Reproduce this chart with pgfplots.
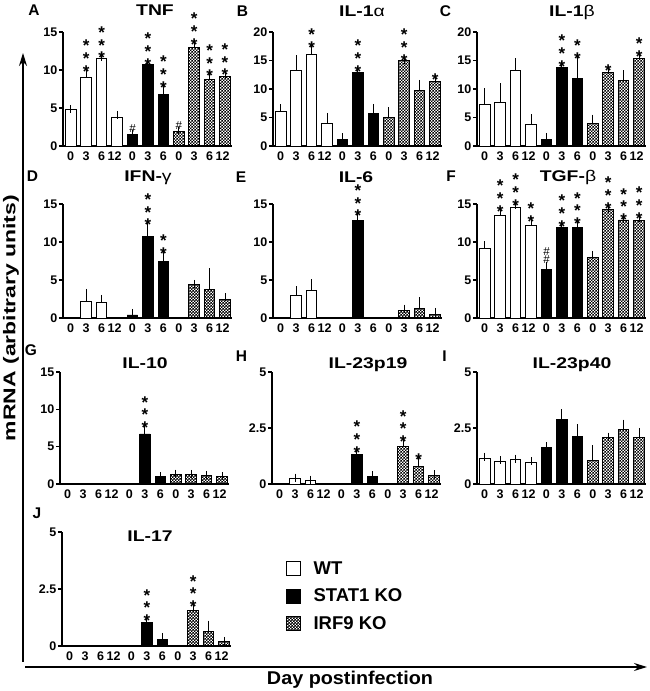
\documentclass[border=0pt]{standalone}
\usepackage{fontspec}
\setmainfont{Liberation Sans}
\newfontfamily\titlefont[FakeStretch=1.25]{Liberation Sans}
\newfontfamily\ylabfont[FakeStretch=1.35]{Liberation Sans}
\newfontfamily\xlabfont[FakeStretch=1.07]{Liberation Sans}
\usepackage{pgfplots}
\pgfplotsset{compat=1.18}
\usetikzlibrary{patterns,arrows.meta}

\pgfdeclarepatternformonly{finecheck}{\pgfpointorigin}{\pgfqpoint{3.2pt}{3.2pt}}{\pgfqpoint{3.2pt}{3.2pt}}%
{
  \pgfpathrectangle{\pgfpointorigin}{\pgfqpoint{1.85pt}{1.85pt}}
  \pgfpathrectangle{\pgfqpoint{1.6pt}{1.6pt}}{\pgfqpoint{1.85pt}{1.85pt}}
  \pgfusepath{fill}
}

\newcommand{\tl}[1]{\textbf{#1}}
\newcommand{\tw}{\textbf{12}\kern5pt}
\pgfplotsset{
  panel/.style={
    scale only axis, width=169pt, height=114pt,
    anchor=south west,
    axis x line*=bottom, axis y line*=left,
    axis line style={line width=1.4pt},
    xmin=-0.5, xmax=10.45, ymin=0,
    xtick={0,...,10},
    xticklabels={\tl{0},\tl{3},\tl{6},\tw,\tl{0},\tl{3},\tl{6},\tl{0},\tl{3},\tl{6},\tw},
    x tick style={draw=none},
    y tick style={line width=1.4pt, black},
    tick align=outside, major tick length=4pt,
    tick label style={font=\bfseries\fontsize{12.5}{13}\selectfont},
    xticklabel style={yshift=2pt, inner xsep=0pt, font=\bfseries\fontsize{12.5}{13}\selectfont},
    yticklabel style={inner xsep=1.5pt, font=\bfseries\fontsize{12.5}{13}\selectfont},
    /pgf/number format/assume math mode=true,
    clip=false,
    ybar, bar width=10.5pt, bar shift=0pt,
    error bars/y dir=plus, error bars/y explicit,
    error bars/error bar style={line width=0.9pt, black},
    error bars/error mark options={line width=0.9pt, mark size=4pt, black},
  },
  wt/.style={draw=black, line width=0.9pt, fill=white, bar shift=0pt},
  ko/.style={draw=black, line width=0.9pt, fill=black, bar shift=0pt},
  irf/.style={draw=black, line width=0.9pt, pattern=finecheck, pattern color=black, bar shift=0pt},
}
\tikzset{
  sig/.style={anchor=south, inner sep=0pt, align=center, font=\bfseries\fontsize{17}{7.6}\selectfont, yshift=-6.6pt},
  hsh/.style={anchor=south, inner sep=0pt, align=center, font=\fontsize{11.5}{8}\selectfont, yshift=1.5pt},
  ttl/.style={anchor=base, inner sep=0pt, font=\titlefont\bfseries\fontsize{15.5}{16}\selectfont},
  lett/.style={anchor=base, inner sep=0pt, font=\bfseries\fontsize{15.5}{16}\selectfont},
}
\newcommand{\sg}[3]{\node[sig] at (axis cs:#1,#2) {#3};}
\newcommand{\hs}[3]{\node[hsh] at (axis cs:#1,#2) {#3};}
\newcommand{\sA}{*}
\newcommand{\sB}{*\\*}
\newcommand{\sC}{*\\*\\*}

\begin{document}
\begin{tikzpicture}
\path[use as bounding box] (0pt,0pt) rectangle (650pt,691pt);

% ---------- A TNF ----------
\begin{axis}[panel, at={(63pt,545pt)}, ymax=15, ytick={0,5,10,15}]
\addplot[wt] coordinates {(0,4.8)+-(0,0.1) (1,9.0)+-(0,0.9) (2,11.5)+-(0,0.15) (3,3.8)+-(0,0.3)};
\addplot[ko] coordinates {(4,1.5)+-(0,0.05) (5,10.7)+-(0,0.1) (6,6.8)+-(0,1.0)};
\addplot[irf] coordinates {(7,1.9)+-(0,0.1) (8,13.0)+-(0,0.45) (9,8.7)+-(0,0.6) (10,9.1)+-(0,0.3)};
\sg{1}{9.9}{\sC}\sg{2}{11.65}{\sC}\sg{5}{10.8}{\sC}\sg{6}{7.8}{\sC}
\sg{8}{13.45}{\sC}\sg{9}{9.3}{\sC}\sg{10}{9.4}{\sC}
\hs{4}{1.55}{\#}\hs{7}{2.0}{\#}
\end{axis}

% ---------- B IL-1a ----------
\begin{axis}[panel, at={(273pt,545pt)}, ymax=20, ytick={0,5,10,15,20}]
\addplot[wt] coordinates {(0,6.0)+-(0,0.6) (1,13.3)+-(0,1.9) (2,16.1)+-(0,1.3) (3,3.9)+-(0,1.2)};
\addplot[ko] coordinates {(4,1.1)+-(0,0.4) (5,12.9)+-(0,0.3) (6,5.7)+-(0,1.0)};
\addplot[irf] coordinates {(7,5.0)+-(0,1.1) (8,15.0)+-(0,0.15) (9,9.8)+-(0,1.1) (10,11.3)+-(0,0.4)};
\sg{2}{17.4}{\sB}\sg{5}{13.2}{\sC}\sg{8}{15.15}{\sC}\sg{10}{11.7}{\sA}
\end{axis}

% ---------- C IL-1b ----------
\begin{axis}[panel, at={(477pt,545pt)}, ymax=20, ytick={0,5,10,15,20}]
\addplot[wt] coordinates {(0,7.35)+-(0,2.1) (1,7.6)+-(0,2.7) (2,13.2)+-(0,1.5) (3,3.8)+-(0,1.1)};
\addplot[ko] coordinates {(4,1.1)+-(0,0.5) (5,13.8)+-(0,0.3) (6,11.9)+-(0,3.5)};
\addplot[irf] coordinates {(7,4.0)+-(0,0.8) (8,12.9)+-(0,0.45) (9,11.5)+-(0,1.1) (10,15.4)+-(0,0.4)};
\sg{5}{14.1}{\sC}\sg{6}{15.4}{\sB}\sg{8}{13.35}{\sA}\sg{10}{15.8}{\sB}
\end{axis}

% ---------- D IFN-g ----------
\begin{axis}[panel, at={(63pt,373pt)}, ymax=15, ytick={0,5,10,15}]
\addplot[wt] coordinates {(1,2.2)+-(0,1.1) (2,2.0)+-(0,0.5)};
\addplot[ko] coordinates {(4,0.4)+-(0,0.26) (5,10.7)+-(0,1.6) (6,7.4)+-(0,1.2)};
\addplot[irf] coordinates {(8,4.4)+-(0,0.1) (9,3.7)+-(0,2.3) (10,2.4)+-(0,0.3)};
\sg{5}{12.3}{\sC}\sg{6}{8.6}{\sB}
\end{axis}

% ---------- E IL-6 ----------
\begin{axis}[panel, at={(273pt,373pt)}, ymax=15, ytick={0,5,10,15}]
\addplot[wt] coordinates {(1,3.0)+-(0,0.65) (2,3.6)+-(0,1.0)};
\addplot[ko] coordinates {(5,12.8)+-(0,0.7)};
\addplot[irf] coordinates {(8,0.97)+-(0,0.25) (9,1.2)+-(0,1.0) (10,0.5)+-(0,0.3)};
\sg{5}{13.5}{\sC}
\end{axis}

% ---------- F TGF-b ----------
\begin{axis}[panel, at={(477pt,373pt)}, ymax=15, ytick={0,5,10,15}]
\addplot[wt] coordinates {(0,9.1)+-(0,0.5) (1,13.5)+-(0,0.6) (2,14.6)+-(0,0.3) (3,12.15)+-(0,0.65)};
\addplot[ko] coordinates {(4,6.4)+-(0,0.5) (5,11.85)+-(0,0.3) (6,11.9)+-(0,0.6)};
\addplot[irf] coordinates {(7,8.0)+-(0,0.3) (8,14.3)+-(0,0.2) (9,12.9)+-(0,0.1) (10,12.85)+-(0,0.35)};
\sg{1}{14.1}{\sC}\sg{2}{14.9}{\sC}\sg{3}{12.8}{\sB}\sg{5}{12.15}{\sC}\sg{6}{12.5}{\sC}
\sg{8}{14.5}{\sC}\sg{9}{13.0}{\sC}\sg{10}{13.2}{\sC}
\hs{4}{6.9}{\#\\\#}
\end{axis}

% ---------- G IL-10 ----------
\begin{axis}[panel, height=112pt, at={(60pt,207pt)}, ymax=15, ytick={0,5,10,15}]
\addplot[ko] coordinates {(5,6.7)+-(0,0.9) (6,0.98)+-(0,0.08)};
\addplot[irf] coordinates {(7,1.3)+-(0,0.08) (8,1.25)+-(0,0.1) (9,1.15)+-(0,0.08) (10,1.0)+-(0,0.05)};
\sg{5}{7.6}{\sC}
\end{axis}

% ---------- H IL-23p19 ----------
\begin{axis}[panel, height=112pt, at={(272pt,207pt)}, ymax=5, ytick={0,2.5,5}]
\addplot[wt] coordinates {(1,0.25)+-(0,0.03) (2,0.18)+-(0,0.02)};
\addplot[ko] coordinates {(5,1.33)+-(0,0.11) (6,0.33)+-(0,0.06)};
\addplot[irf] coordinates {(8,1.66)+-(0,0.25) (9,0.8)+-(0,0.3) (10,0.4)+-(0,0.03)};
\sg{5}{1.44}{\sC}\sg{8}{1.91}{\sC}\sg{9}{1.1}{\sA}
\end{axis}

% ---------- I IL-23p40 ----------
\begin{axis}[panel, height=112pt, at={(477pt,207pt)}, ymax=5, ytick={0,2.5,5}]
\addplot[wt] coordinates {(0,1.14)+-(0,0.08) (1,1.02)+-(0,0.05) (2,1.08)+-(0,0.05) (3,0.98)+-(0,0.04)};
\addplot[ko] coordinates {(4,1.62)+-(0,0.07) (5,2.88)+-(0,0.27) (6,2.14)+-(0,0.35)};
\addplot[irf] coordinates {(7,1.07)+-(0,0.49) (8,2.08)+-(0,0.04) (9,2.45)+-(0,0.24) (10,2.08)+-(0,0.25)};
\end{axis}

% ---------- J IL-17 ----------
\begin{axis}[panel, at={(62pt,45pt)}, ymax=5, ytick={0,2.5,5}]
\addplot[ko] coordinates {(5,1.03)+-(0,0.1) (6,0.28)+-(0,0.12)};
\addplot[irf] coordinates {(8,1.57)+-(0,0.18) (9,0.62)+-(0,0.32) (10,0.2)+-(0,0.02)};
\sg{5}{1.13}{\sC}\sg{8}{1.75}{\sC}
\end{axis}

% ---------- legend ----------
\begin{axis}[hide axis, scale only axis, width=10pt, height=10pt,
  at={(286pt,130pt)}, anchor=north west, xmin=0, xmax=1, ymin=0, ymax=1,
  legend cell align=left,
  legend image code/.code={\draw[#1] (0pt,-7pt) rectangle (14pt,7pt);},
  legend style={at={(0,1)}, anchor=north west, draw=none, fill=none,
    inner sep=0pt, row sep=12pt, column sep=12pt,
    font=\bfseries\fontsize{18.5}{20}\selectfont, nodes={inner sep=0.5pt}}]
\addlegendimage{draw=black, line width=0.9pt, fill=white}
\addlegendimage{draw=black, line width=0.9pt, fill=black}
\addlegendimage{draw=black, line width=0.9pt, pattern=finecheck, pattern color=black}
\legend{WT, STAT1 KO, IRF9 KO}
\end{axis}

% ---------- titles and letters ----------
\node[lett] at (34pt,675pt) {A};
\node[ttl] at (155pt,675pt) {TNF};
\node[lett] at (242.5pt,674.5pt) {B};
\node[ttl] at (362pt,674.5pt) {IL-1{\mdseries α}};
\node[lett] at (445.5pt,674.5pt) {C};
\node[ttl] at (572pt,674.5pt) {IL-1{\mdseries β}};
\node[lett] at (32.5pt,509.3pt) {D};
\node[ttl] at (148pt,509.3pt) {IFN-{\mdseries γ}};
\node[lett] at (241pt,508.3pt) {E};
\node[ttl] at (356pt,508.3pt) {IL-6};
\node[lett] at (451pt,509.3pt) {F};
\node[ttl] at (568pt,509.3pt) {TGF-{\mdseries β}};
\node[lett] at (31pt,335pt) {G};
\node[ttl] at (145pt,322.7pt) {IL-10};
\node[lett] at (241.5pt,329.3pt) {H};
\node[ttl] at (368pt,322.7pt) {IL-23p19};
\node[lett] at (444.5pt,329.3pt) {I};
\node[ttl] at (572pt,322.7pt) {IL-23p40};
\node[lett] at (37pt,172.7pt) {J};
\node[ttl] at (150pt,149.3pt) {IL-17};

% ---------- big axes ----------
\draw[line width=1.5pt, -{Stealth[length=13pt, width=8pt]}] (23pt,29pt) -- (23pt,638pt);
\draw[line width=1.5pt, -{Stealth[length=13pt, width=8pt]}] (25pt,24pt) -- (647pt,24pt);
\node[rotate=90, inner sep=0pt, font=\ylabfont\bfseries\fontsize{17}{18}\selectfont] at (11pt,373pt) {mRNA (arbitrary units)};
\node[inner sep=0pt, font=\xlabfont\bfseries\fontsize{18.5}{19}\selectfont] at (350pt,11pt) {Day postinfection};
\end{tikzpicture}
\end{document}
